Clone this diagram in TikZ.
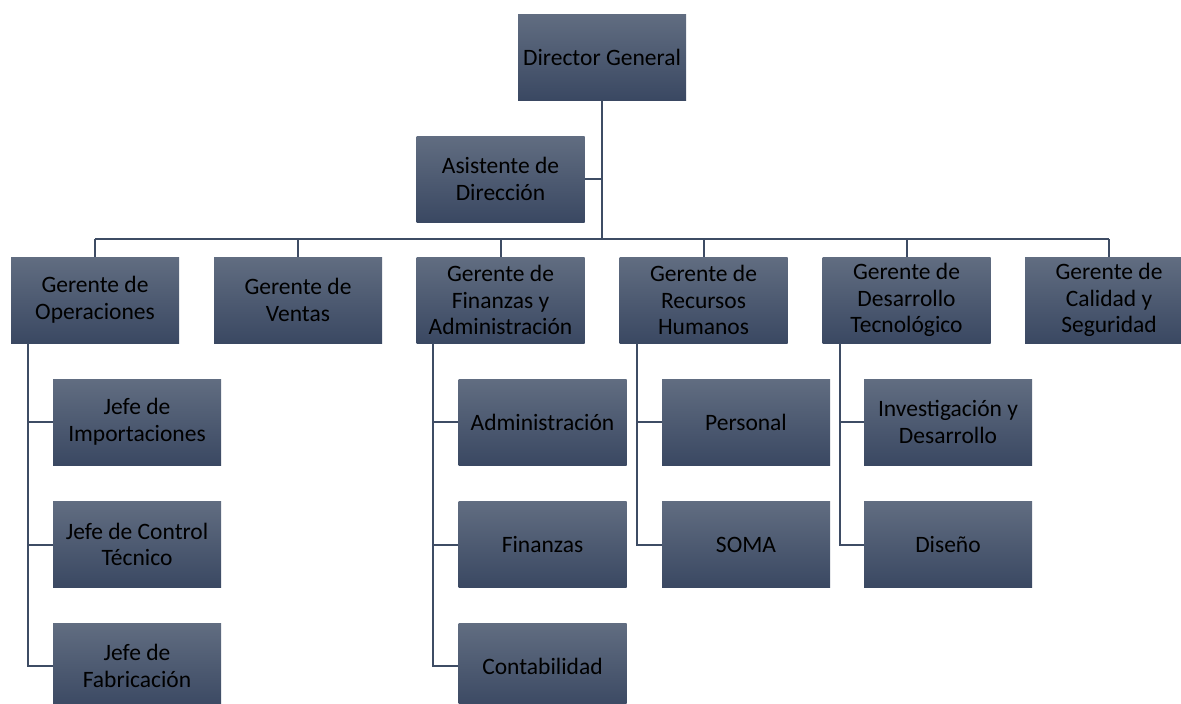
\documentclass[tikz,border=0pt]{standalone}
\usepackage{fontspec}
\setmainfont{Carlito}
\usetikzlibrary{positioning}
\definecolor{boxtop}{HTML}{616D81}
\definecolor{boxbot}{HTML}{3A4862}
\definecolor{linkcol}{HTML}{3E4C64}

\begin{document}
\begin{tikzpicture}[x=1pt, y=-1pt,
  puesto/.style={rectangle, top color=boxtop, bottom color=boxbot,
    minimum width=168pt, minimum height=86pt, inner sep=0pt,
    align=center, font=\fontsize{23.5}{26.7}\selectfont},
  enlace/.style={draw=linkcol, line width=2pt}]
  \clip (0,0) rectangle (1181,704);

  \node[puesto] (DG) at (602,57) {Director General};
  \node[puesto] (AD) at (500.5,179) {Asistente de\\Dirección};

  \node[puesto] (GO) at (95,300) {Gerente de\\Operaciones};
  \node[puesto] (GV) at (298,300) {Gerente de\\Ventas};
  \node[puesto] (GF) at (500.5,300) {Gerente de\\Finanzas y\\Administración};
  \node[puesto] (GR) at (703.5,300) {Gerente de\\Recursos\\Humanos};
  \node[puesto] (GD) at (906.5,300) {Gerente de\\Desarrollo\\Tecnológico};
  \node[puesto] (GC) at (1109,300) {Gerente de\\Calidad y\\Seguridad};

  \node[puesto] (JI) at (137,422) {Jefe de\\Importaciones};
  \node[puesto] (JC) at (137,544.5) {Jefe de Control\\Técnico};
  \node[puesto] (JF) at (137,666) {Jefe de\\Fabricación};

  \node[puesto] (Adm) at (542.5,422) {Administración};
  \node[puesto] (Fin) at (542.5,544.5) {Finanzas};
  \node[puesto] (Con) at (542.5,666) {Contabilidad};

  \node[puesto] (Per) at (746,422) {Personal};
  \node[puesto] (SOMA) at (746,544.5) {SOMA};

  \node[puesto] (ID) at (948,422) {Investigación y\\Desarrollo};
  \node[puesto] (Dis) at (948,544.5) {Diseño};

  \coordinate (bus) at (0,239);

  \draw[enlace] (DG.south) -- (DG.south |- bus);
  \draw[enlace] (AD.east) -- (AD.east -| DG.south);
  \draw[enlace] (GO.north |- bus) -- (GC.north |- bus);
  \foreach \g in {GO,GV,GF,GR,GD,GC}
    \draw[enlace] (\g.north) -- (\g.north |- bus);

  \coordinate (lo) at ([xshift=17pt]GO.south west);
  \coordinate (lf) at ([xshift=17pt]GF.south west);
  \coordinate (lr) at ([xshift=18pt]GR.south west);
  \coordinate (ld) at ([xshift=18pt]GD.south west);

  \draw[enlace] (lo) |- (JF.west);
  \draw[enlace] (JI.west) -- (JI.west -| lo);
  \draw[enlace] (JC.west) -- (JC.west -| lo);

  \draw[enlace] (lf) |- (Con.west);
  \draw[enlace] (Adm.west) -- (Adm.west -| lf);
  \draw[enlace] (Fin.west) -- (Fin.west -| lf);

  \draw[enlace] (lr) |- (SOMA.west);
  \draw[enlace] (Per.west) -- (Per.west -| lr);

  \draw[enlace] (ld) |- (Dis.west);
  \draw[enlace] (ID.west) -- (ID.west -| ld);
\end{tikzpicture}
\end{document}
